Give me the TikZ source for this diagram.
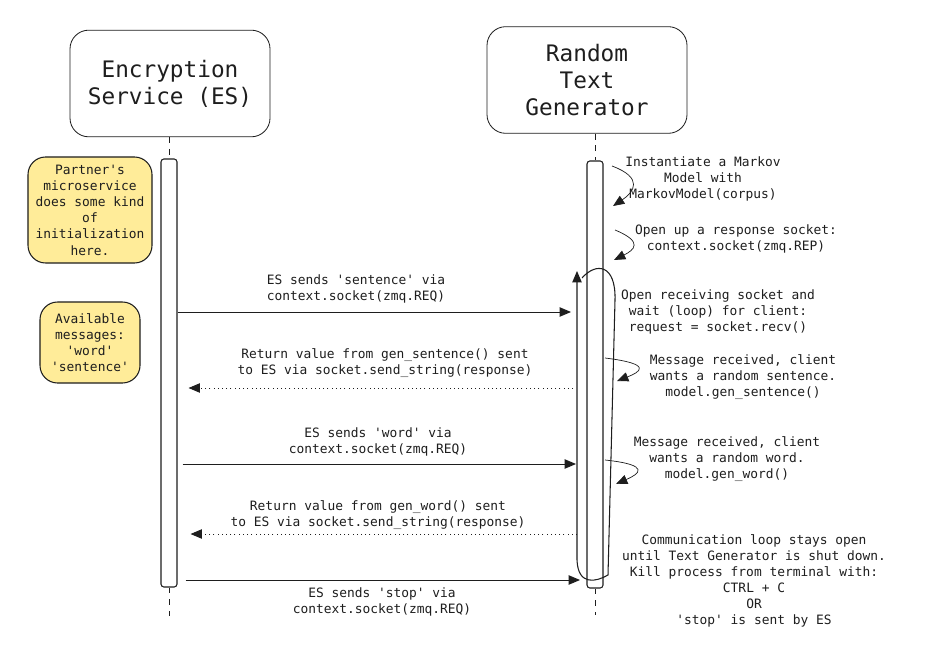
\documentclass[tikz,border=0pt]{standalone}
\usepackage{fontspec}
\setmonofont{DejaVu Sans Mono}
\usetikzlibrary{arrows.meta,positioning}
\definecolor{ink}{HTML}{1E1E1E}
\definecolor{notey}{HTML}{FFEC99}
\tikzset{
  head/.style  = {rectangle, rounded corners=16pt, draw=ink, line width=0.7pt,
                  minimum width=6cm, minimum height=3.2cm, align=center,
                  text=ink, font=\ttfamily\fontsize{19.4}{23}\selectfont},
  actbar/.style = {rectangle, rounded corners=2.5pt, draw=ink, fill=white,
                  line width=0.9pt, minimum width=0.48cm, inner sep=0pt},
  note/.style  = {rectangle, rounded corners=15pt, draw=ink, fill=notey,
                  line width=0.9pt, align=center, inner sep=0pt, text=ink,
                  font=\ttfamily\fontsize{11}{13.8}\selectfont},
  txt/.style   = {align=center, inner sep=0pt, text=ink,
                  font=\ttfamily\fontsize{11}{13.7}\selectfont},
  msg/.style   = {-{Triangle[length=3.4mm,width=2.8mm]}, draw=ink, line width=0.8pt},
  ret/.style   = {msg, dash pattern=on 0.8pt off 2.8pt},
  life/.style  = {draw=ink, line width=0.8pt, dash pattern=on 5pt off 5pt}
}
\begin{document}
\begin{tikzpicture}[
    x=0.03cm, y=-0.03cm,
    selfar/.style={-{Triangle[length=3.4mm,width=2.8mm]}, draw=ink, line width=0.6pt},
    loopar/.style={-{Triangle[length=3.4mm,width=2.8mm]}, draw=ink, line width=0.9pt}
  ]
  \useasboundingbox[fill=white] (0,0) rectangle (936,656);

  % ===================== lifeline heads =====================
  \node[head] (es)  at (170,83.5) {Encryption\\Service (ES)};
  \node[head] (rtg) at (587,80)   {Random\\Text\\Generator};

  % ===================== activation bars =====================
  \node[actbar, minimum height=12.84cm] (esbar)  at (169,373) {};
  \node[actbar, minimum height=12.81cm] (rtgbar) at (595,374.5) {};

  \draw[life] (esbar.north |- es.south) -- (esbar.north);
  \draw[life] (esbar.south) -- ++(0,28);
  \draw[life] (rtgbar.north |- rtg.south) -- (rtgbar.north);
  \draw[life] (rtgbar.south) -- ++(0,26);

  % ===================== notes on the ES side =====================
  \node[note, minimum width=3.72cm, minimum height=3.18cm] (init) at (90,210)
    {Partner's\\microservice\\does some kind\\of\\initialization\\here.};
  \node[note, minimum width=3cm, minimum height=2.43cm] (avail) at (90,342.5)
    {Available\\messages:\\'word'\\'sentence'};

  % ===================== messages =====================
  \coordinate (m1) at (571,312);
  \coordinate (m2) at (573,388);
  \coordinate (m3) at (576,464);
  \coordinate (m4) at (577,534);
  \coordinate (m5) at (580,580);

  \draw[msg] (esbar.east |- m1) -- (m1);
  \node[txt] (m1lab) at (356,289) {ES sends 'sentence' via\\context.socket(zmq.REQ)};
  \draw[ret] (m2) -- ([xshift=0.33cm]esbar.east |- m2);
  \node[txt] (m2lab) at (385,363) {Return value from gen\_sentence() sent\\to ES via socket.send\_string(response)};
  \draw[msg] ([xshift=0.15cm]esbar.east |- m3) -- (m3);
  \node[txt] (m3lab) at (378,442) {ES sends 'word' via\\context.socket(zmq.REQ)};
  \draw[ret] (m4) -- ([xshift=0.39cm]esbar.east |- m4);
  \node[txt] (m4lab) at (378,515) {Return value from gen\_word() sent\\to ES via socket.send\_string(response)};
  \draw[msg] ([xshift=0.24cm]esbar.east |- m5) -- (m5);
  \node[txt] (m5lab) at (382,602) {ES sends 'stop' via\\context.socket(zmq.REQ)};

  % ===================== self calls on the generator =====================
  \coordinate (c1a) at (612,166); \coordinate (c1b) at (613,206);
  \coordinate (c2a) at (615,230); \coordinate (c2b) at (614,260);
  \coordinate (c3a) at (605,358); \coordinate (c3b) at (617,381);
  \coordinate (c4a) at (605,460); \coordinate (c4b) at (616,484);
  \draw[selfar] (c1a) .. controls (644,178) and (634,192) .. (c1b);
  \draw[selfar] (c2a) .. controls (644,242) and (634,250) .. (c2b);
  \draw[selfar] (c3a) .. controls (654,364) and (640,372) .. (c3b);
  \draw[selfar] (c4a) .. controls (652,465) and (639,474) .. (c4b);

  \node[txt] (c1lab) at (703,179) {Instantiate a Markov\\Model with\\MarkovModel(corpus)};
  \node[txt] (c2lab) at (736,239) {Open up a response socket:\\context.socket(zmq.REP)};
  \node[txt] (c3lab) at (743,377) {Message received, client\\wants a random sentence.\\model.gen\_sentence()};
  \node[txt] (c4lab) at (727,459) {Message received, client\\wants a random word.\\model.gen\_word()};

  % ===================== receive loop =====================
  \coordinate (loopin)  at (582,278);
  \coordinate (looptip) at (577,271);
  \draw[loopar] (loopin) .. controls (596,262) and (616,264) .. (615,300)
    -- (608,575) .. controls (596,582) and (578,586) .. (577,560) -- (looptip);
  \node[txt] (looplab) at (718,312) {Open receiving socket and\\wait (loop) for client:\\request = socket.recv()};
  \node[txt] (endlab) at (754,581) {Communication loop stays open\\until Text Generator is shut down.\\Kill process from terminal with:\\CTRL + C\\OR\\'stop' is sent by ES};
\end{tikzpicture}
\end{document}
